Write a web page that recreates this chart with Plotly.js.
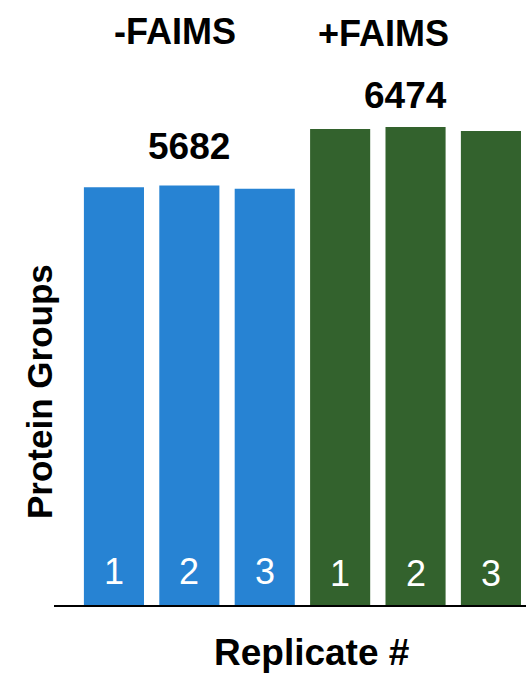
<!DOCTYPE html>
<html>
<head>
<meta charset="utf-8">
<script src="https://cdn.plot.ly/plotly-3.0.1.min.js"></script>
<style>html,body{margin:0;padding:0;background:#fff;}#chart{width:526px;height:676px;}</style>
</head>
<body>
<div id="chart"></div>
<script>
// Data
const categories = ["-FAIMS 1", "-FAIMS 2", "-FAIMS 3", "+FAIMS 1", "+FAIMS 2", "+FAIMS 3"];
const replicateLabels = ["1", "2", "3", "1", "2", "3"];
const groups = ["-FAIMS", "-FAIMS", "-FAIMS", "+FAIMS", "+FAIMS", "+FAIMS"];
const proteinGroups = [5680, 5705, 5662, 6475, 6500, 6447];
const groupNames = ["-FAIMS", "+FAIMS"];
const groupMeans = [5682, 6474];

const groupColors = {"-FAIMS": "#2783D3", "+FAIMS": "#33622D"};
const FONT = "Liberation Sans, Arial, sans-serif";

const trace = {
  type: "bar",
  x: categories,
  y: proteinGroups,
  marker: {color: groups.map(g => groupColors[g])},
  hoverinfo: "x+y",
  showlegend: false
};

const annotations = [];
// replicate numbers inside bars
replicateLabels.forEach((lab, i) => {
  annotations.push({
    x: i, xref: "x", y: groups[i] === "-FAIMS" ? 450 : 435, yref: "y",
    text: lab, showarrow: false, xanchor: "center", yanchor: "middle",
    font: {family: FONT, size: 36, color: "#ffffff"}
  });
});
// group header labels and mean values
const headerX = [0.81, 3.57];
const headerY = [7806, 7779];
const meanX = [1, 3.87];
const meanY = [6242, 6935];
groupNames.forEach((g, k) => {
  annotations.push({
    x: headerX[k], xref: "x", y: headerY[k], yref: "y",
    text: "<b>" + g + "</b>", showarrow: false, xanchor: "center", yanchor: "middle",
    font: {family: FONT, size: 36, color: "#000"}
  });
  annotations.push({
    x: meanX[k], xref: "x", y: meanY[k], yref: "y",
    text: "<b>" + groupMeans[k] + "</b>", showarrow: false, xanchor: "center", yanchor: "middle",
    font: {family: FONT, size: 37, color: "#000"}
  });
});
// axis titles
annotations.push({
  x: -0.0318, xref: "paper", y: 0.3537, yref: "paper",
  text: "<b>Protein Groups</b>", textangle: -90, showarrow: false,
  xanchor: "center", yanchor: "middle",
  font: {family: FONT, size: 35, color: "#000"}
});
annotations.push({
  x: 0.545, xref: "paper", y: -(674 - 605) / 605, yref: "paper",
  text: "<b>Replicate #</b>", showarrow: false,
  xanchor: "center", yanchor: "bottom", borderpad: 0,
  font: {family: FONT, size: 37, color: "#000"}
});

const layout = {
  width: 526, height: 676,
  margin: {l: 54, r: 0, t: 0, b: 71},
  paper_bgcolor: "#ffffff",
  plot_bgcolor: "#ffffff",
  bargap: 0.203,
  xaxis: {
    type: "category",
    range: [-0.795, 5.465],
    showticklabels: false, ticks: "",
    showgrid: false, zeroline: false,
    showline: true, linecolor: "#000", linewidth: 2,
    fixedrange: true
  },
  yaxis: {
    range: [0, 8228],
    visible: false, showgrid: false, zeroline: false,
    fixedrange: true
  },
  annotations: annotations,
  font: {family: FONT}
};

Plotly.newPlot("chart", [trace], layout, {displayModeBar: false, staticPlot: true});
</script>
</body>
</html>
